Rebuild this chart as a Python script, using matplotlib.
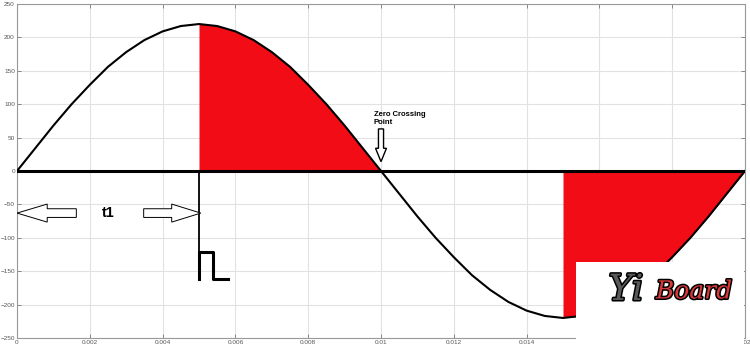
import matplotlib.pyplot as plt
import matplotlib.patches as mpatches
import matplotlib.patheffects as pe
import numpy as np

plt.rcParams.update({"font.family": ["Liberation Sans", "DejaVu Sans"]})

# waveform samples (every 0.5 ms)
t = np.linspace(0, 0.02, 41)
v = [0, 34, 68, 100, 129, 156, 178, 196, 209, 217, 220, 217, 209, 196, 178, 156, 129, 100, 68, 34,
     0, -34, -68, -100, -129, -156, -178, -196, -209, -217, -220, -217, -209, -196, -178, -156, -129, -100, -68, -34, 0]

xticks = [0, 0.002, 0.004, 0.006, 0.008, 0.01, 0.012, 0.014, 0.016, 0.018, 0.02]
xlabels = ['0', '0.002', '0.004', '0.006', '0.008', '0.01', '0.012', '0.014', '0.016', '0.018', '0.02']
yticks = [-250, -200, -150, -100, -50, 0, 50, 100, 150, 200, 250]

fire1 = (0.005, 0.01)
fire2 = (0.015, 0.02)

# gate pulse drawn at the firing instant
pulse_t = [0.005, 0.005, 0.00538, 0.00538, 0.0058]
pulse_v = [-162, -122, -122, -162, -162]

t = np.array(t)
v = np.array(v)

fig = plt.figure(figsize=(7.5, 3.53), dpi=100)
ax = fig.add_axes([17 / 750, 1 - 338 / 353, 728 / 750, 334 / 353])

red = '#f20d16'
m1 = (t >= fire1[0] - 1e-9) & (t <= fire1[1] + 1e-9)
m2 = (t >= fire2[0] - 1e-9) & (t <= fire2[1] + 1e-9)
ax.fill_between(t, v, 0, where=m1, color=red, lw=0, zorder=2)
ax.fill_between(t, v, 0, where=m2, color=red, lw=0, zorder=2)

ax.plot(t, v, color='black', lw=1.5, zorder=3)
ax.axhline(0, color='black', lw=2.2, zorder=3)

ax.plot([fire1[0], fire1[0]], [0, pulse_v[0]], color='black', lw=1.3, zorder=3)
ax.plot(pulse_t, pulse_v, color='black', lw=2.2, zorder=3)

# t1 arrows
arrow_kw = dict(facecolor='white', edgecolor='black', lw=0.7, length_includes_head=True, zorder=4)
ax.add_patch(mpatches.FancyArrow(0.00163, -63, -0.00163, 0, width=13, head_width=27,
                                 head_length=0.00083, **arrow_kw))
ax.add_patch(mpatches.FancyArrow(0.00348, -63, 0.00157, 0, width=13, head_width=27,
                                 head_length=0.0008, **arrow_kw))
ax.text(0.0025, -63, 't1', fontsize=10.5, fontweight='bold', ha='center', va='center', zorder=4)

# zero crossing arrow
ax.add_patch(mpatches.FancyArrow(0.01, 63, 0, -49, width=0.00014, head_width=0.0003,
                                 head_length=20, lw=1.0, facecolor='white', edgecolor='black',
                                 length_includes_head=True, zorder=4))
ax.text(0.0098, 90, 'Zero Crossing\nPoint', fontsize=5.5, fontweight='bold', ha='left', va='top',
        linespacing=1.3, zorder=4)

ax.set_xlim(0, 0.02)
ax.set_ylim(-250, 250)
ax.set_xticks(xticks)
ax.set_xticklabels(xlabels)
ax.set_yticks(yticks)
ax.grid(True, color='#e2e2e2', lw=0.8)
ax.set_axisbelow(True)
ax.tick_params(direction='in', length=3, width=0.6, color='#777777', labelsize=4.6,
               labelcolor='#555555', top=True, right=True, pad=1.5)
for s in ax.spines.values():
    s.set_color('#999999')
    s.set_linewidth(0.8)

# logo box
fig.patches.append(mpatches.Rectangle((576 / 750, 0), 168 / 750, 91 / 353, transform=fig.transFigure,
                                      facecolor='white', edgecolor='none', zorder=10))
stroke = [pe.withStroke(linewidth=2.2, foreground='black')]
fig.text(626 / 750, 1 - 290 / 353, 'Yi', fontsize=26, family='DejaVu Serif', style='italic',
         color='#5a5a5a', ha='center', va='center', zorder=11, path_effects=stroke)
fig.text(694 / 750, 1 - 292 / 353, 'Board', fontsize=18, family='DejaVu Serif', style='italic',
         color='#d83a3a', ha='center', va='center', zorder=11, path_effects=stroke)

fig.savefig('out.png', dpi=100)
